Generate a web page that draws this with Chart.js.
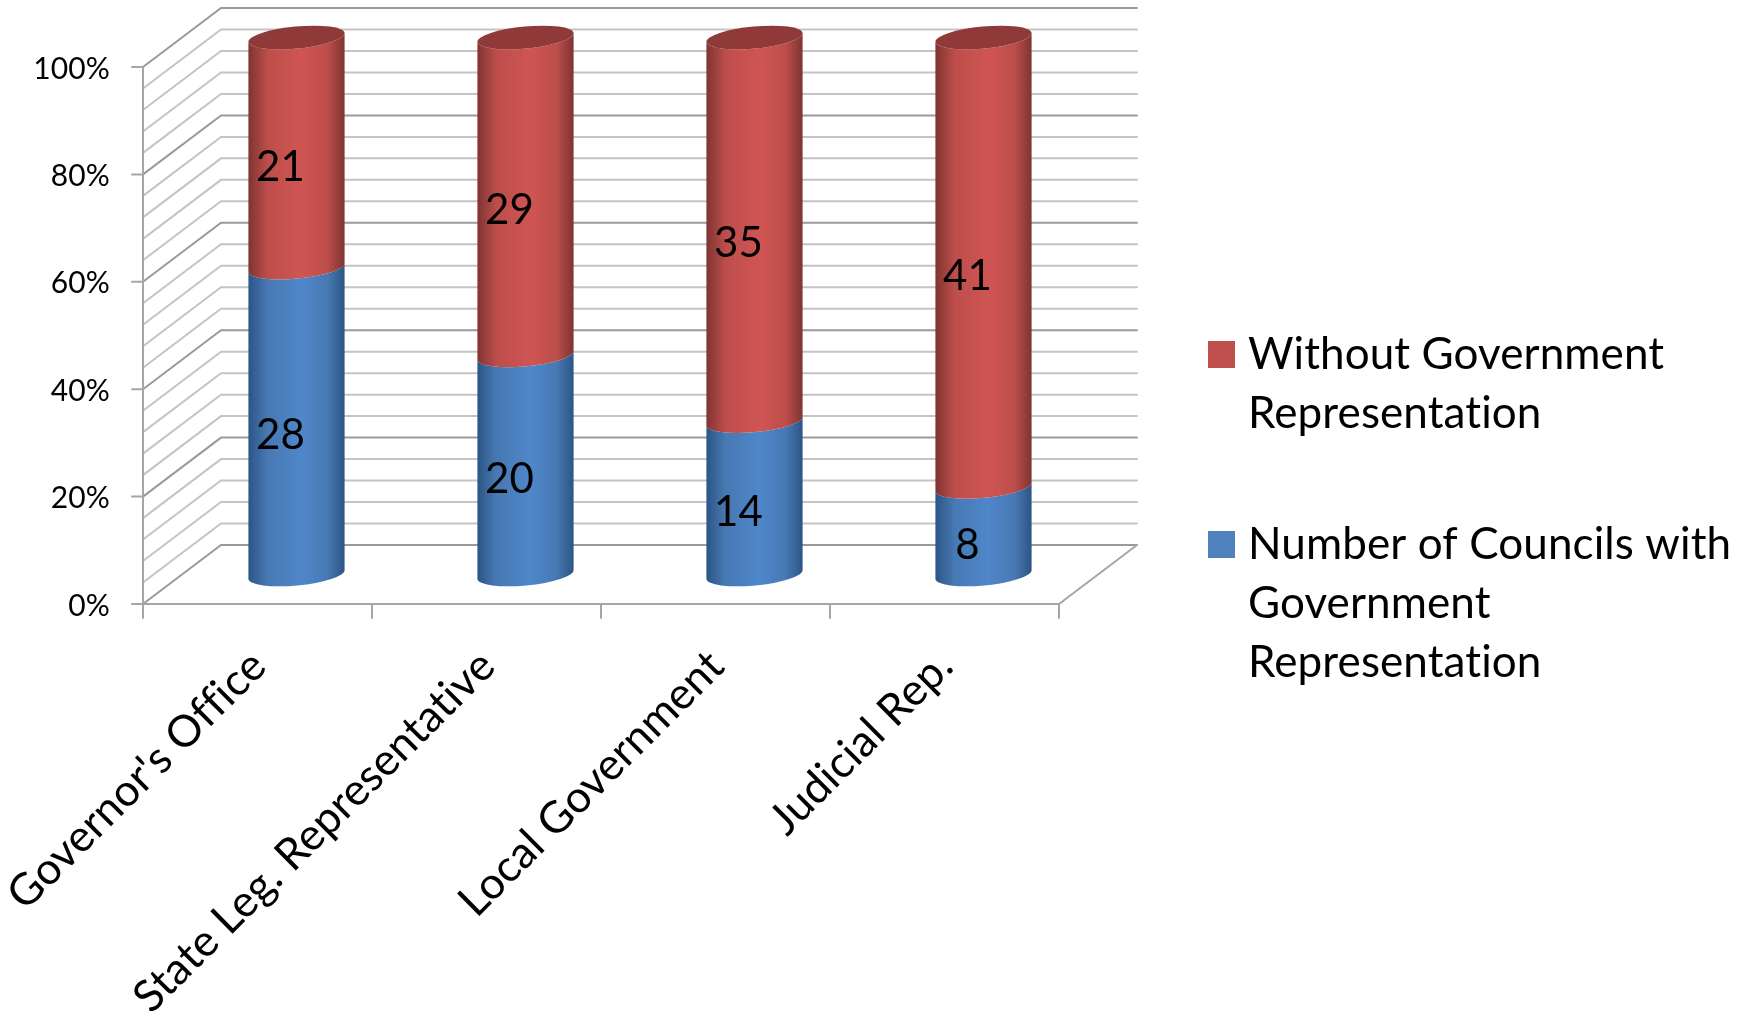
<!DOCTYPE html>
<html>
<head>
<meta charset="utf-8">
<title>Government representation on councils</title>
<script src="https://cdn.jsdelivr.net/npm/chart.js@4"></script>
<style>
  html, body { margin: 0; padding: 0; background: #fff; }
  canvas { display: block; }
</style>
</head>
<body>
<canvas id="chart" width="1747" height="1018"></canvas>
<script>
"use strict";
const categories = ["Governor's Office", "State Leg. Representative", "Local Government", "Judicial Rep."];
const withRep = [28, 20, 14, 8];
const withoutRep = [21, 29, 35, 41];
const withRepLabel = ["Number of Councils with", "Government", "Representation"];
const withoutRepLabel = ["Without Government", "Representation"];

const FONT = "Lato";
const DEPTH_X = 78, DEPTH_Y = -59;

function pct(values, others) {
    return values.map((v, i) => v / (v + others[i]) * 100);
}

function cylinder(ctx, el, light, mid, dark, cap) {
    const hw = el.width / 2, cx = el.x + DEPTH_X / 2;
    const top = el.y + DEPTH_Y / 2, base = el.base + DEPTH_Y / 2;
    const tilt = Math.atan(4.5 / hw), a = hw / Math.cos(tilt), b = 11;
    const dx = hw, dy = 4.5;
    const grad = ctx.createLinearGradient(cx - hw, 0, cx + hw, 0);
    grad.addColorStop(0, dark);
    grad.addColorStop(0.2, mid);
    grad.addColorStop(0.55, light);
    grad.addColorStop(0.82, mid);
    grad.addColorStop(1, dark);
    ctx.beginPath();
    ctx.moveTo(cx - dx, top + dy);
    ctx.lineTo(cx - dx, base + dy);
    ctx.ellipse(cx, base, a, b, -tilt, Math.PI, 0, true);
    ctx.lineTo(cx + dx, top - dy);
    ctx.ellipse(cx, top, a, b, -tilt, 0, Math.PI, false);
    ctx.closePath();
    ctx.fillStyle = grad;
    ctx.fill();
    if (cap) {
        ctx.beginPath();
        ctx.ellipse(cx, top, a, b, -tilt, 0, Math.PI * 2);
        ctx.fillStyle = cap;
        ctx.fill();
    }
}

const walls = {
    id: "walls",
    beforeDraw(chart) {
        chart.ctx.letterSpacing = "0.1px"; // keeps Lato from joining "ti" and "ffi" into ligatures
    },
    beforeDatasetsDraw(chart) {
        const { ctx, chartArea: area, scales: { x, y } } = chart;
        ctx.save();
        ctx.lineCap = "round";
        y.ticks.forEach(t => {
            const py = y.getPixelForValue(t.value);
            const major = t.value % 20 === 0;
            ctx.strokeStyle = major ? "#9a9a9a" : "#c4c4c4";
            ctx.lineWidth = 2;
            ctx.beginPath();
            ctx.moveTo(area.left, py);
            ctx.lineTo(area.left + DEPTH_X, py + DEPTH_Y);
            ctx.lineTo(area.right + DEPTH_X, py + DEPTH_Y);
            ctx.stroke();
            if (major) {
                ctx.strokeStyle = "#a6a6a6";
                ctx.beginPath();
                ctx.moveTo(area.left - 11, py);
                ctx.lineTo(area.left, py);
                ctx.stroke();
            }
        });
        ctx.strokeStyle = "#a6a6a6";
        ctx.lineWidth = 2;
        ctx.beginPath();
        ctx.moveTo(area.left, area.top);
        ctx.lineTo(area.left, area.bottom + 14);
        ctx.moveTo(area.left, area.bottom);
        ctx.lineTo(area.right, area.bottom);
        ctx.lineTo(area.right + DEPTH_X, area.bottom + DEPTH_Y);
        const step = x.width / categories.length;
        for (let i = 0; i <= categories.length; i++) {
            const px = x.getPixelForTick(0) - step / 2 + step * i;
            ctx.moveTo(px, area.bottom);
            ctx.lineTo(px, area.bottom + 14);
        }
        ctx.stroke();

        chart.getDatasetMeta(0).data.forEach(el => cylinder(ctx, el, "#4f87ca", "#4779b3", "#2d5586"));
        chart.getDatasetMeta(1).data.forEach(el => cylinder(ctx, el, "#cf5553", "#bd4e4b", "#7f3432", "#8f3a38"));
        ctx.restore();
    },
    beforeDatasetDraw() {
        return false; // cylinders are painted above, from the bar elements
    },
    afterDatasetsDraw(chart) {
        const { ctx } = chart;
        ctx.save();
        ctx.font = "42px " + FONT;
        ctx.fillStyle = "#000";
        ctx.textAlign = "center";
        ctx.textBaseline = "middle";
        [withRep, withoutRep].forEach((vals, d) => {
            chart.getDatasetMeta(d).data.forEach((el, i) => {
                ctx.fillText(String(vals[i]), el.x + 23, (el.y + el.base) / 2 - 15);
            });
        });
        ctx.restore();
    },
    afterDraw(chart) {
        const { ctx } = chart;
        const blocks = [
            { color: "#c0504d", lines: withoutRepLabel, y: 369 },
            { color: "#4f81bd", lines: withRepLabel, y: 559 }
        ];
        ctx.save();
        ctx.font = "44px " + FONT;
        ctx.textAlign = "left";
        ctx.textBaseline = "alphabetic";
        blocks.forEach(b => {
            ctx.fillStyle = b.color;
            ctx.fillRect(1208, b.y - 28, 27, 27);
            ctx.fillStyle = "#000";
            b.lines.forEach((line, i) => ctx.fillText(line, 1248, b.y + i * 59));
        });
        ctx.restore();
    }
};

new Chart(document.getElementById("chart"), {
    type: "bar",
    plugins: [walls],
    data: {
        labels: categories,
        datasets: [
            { label: withRepLabel.join(" "), data: pct(withRep, withoutRep), backgroundColor: "#4f81bd" },
            { label: withoutRepLabel.join(" "), data: pct(withoutRep, withRep), backgroundColor: "#c0504d" }
        ]
    },
    options: {
        responsive: false,
        animation: false,
        devicePixelRatio: 1,
        layout: { padding: { top: 67, right: 688, left: 0, bottom: 0 } },
        datasets: { bar: { barPercentage: 0.42, categoryPercentage: 1 } },
        plugins: { legend: { display: false }, tooltip: { enabled: false } },
        scales: {
            x: {
                stacked: true,
                grid: { display: false, drawTicks: false },
                border: { display: false },
                ticks: {
                    color: "#000",
                    font: { family: FONT, size: 44 },
                    minRotation: 45,
                    maxRotation: 45,
                    padding: 36,
                    labelOffset: 1,
                    autoSkip: false
                },
                afterFit(scale) {
                    scale.height = 414;
                    scale.paddingLeft = 0;
                    scale.paddingRight = 0;
                }
            },
            y: {
                stacked: true,
                min: 0,
                max: 100,
                grid: { display: false, drawTicks: false },
                border: { display: false },
                ticks: {
                    stepSize: 4,
                    autoSkip: false,
                    color: "#000",
                    font: { family: FONT, size: 30 },
                    padding: 33,
                    labelOffset: 2,
                    callback: v => (v % 20 === 0 ? v + "%" : "")
                },
                afterFit(scale) {
                    scale.width = 143;
                    scale.paddingTop = 0;
                    scale.paddingBottom = 0;
                }
            }
        }
    }
});
</script>
</body>
</html>
